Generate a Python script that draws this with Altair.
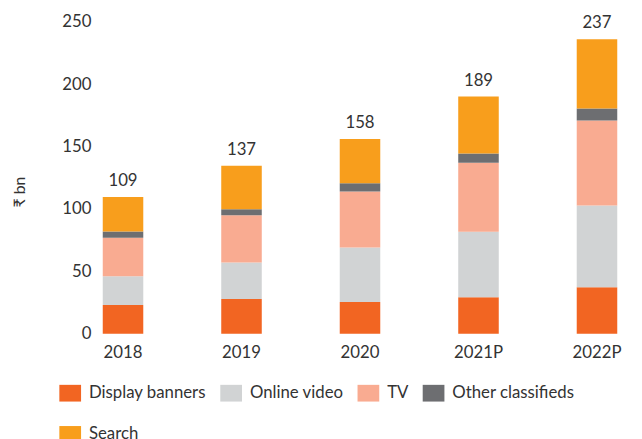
import altair as alt
import pandas as pd

years = ["2018", "2019", "2020", "2021P", "2022P"]
series = ["Display banners", "Online video", "TV", "Other classifieds", "Search"]
colors = ["#F26522", "#D1D3D4", "#F9AB91", "#6D6E71", "#F89E1C"]

display_banners = [23.0, 27.7, 25.3, 29.3, 37.2]
online_video = [23.0, 29.3, 43.8, 52.3, 65.5]
tv = [30.9, 38.0, 44.9, 55.4, 68.1]
other_classifieds = [5.0, 4.8, 6.6, 7.4, 9.7]
search = [27.7, 34.8, 35.4, 45.7, 55.4]
totals = [109, 137, 158, 189, 237]

y_ticks = [0, 50, 100, 150, 200, 250]

values = [display_banners, online_video, tv, other_classifieds, search]
rows = []
for si, s in enumerate(series):
    for yi, yr in enumerate(years):
        rows.append({"year": yr, "series": s, "value": values[si][yi], "ord": si})
df = pd.DataFrame(rows)

tops = df.groupby("year", sort=False)["value"].sum().reindex(years).tolist()
df_tot = pd.DataFrame({"year": years, "top": tops, "label": [str(t) for t in totals]})

FONT = "Lato"
TXT = "#333333"

x_enc = alt.X(
    "year:N",
    sort=years,
    scale=alt.Scale(paddingInner=0.658, paddingOuter=0.033),
    axis=alt.Axis(title=None, labelAngle=0, ticks=False, domain=False,
                  labelPadding=11, labelFontSize=17, labelFont=FONT, labelColor=TXT),
)

bars = alt.Chart(df).mark_bar(strokeWidth=0).encode(
    x=x_enc,
    y=alt.Y(
        "value:Q",
        stack="zero",
        scale=alt.Scale(domain=[0, 250], nice=False),
        axis=alt.Axis(values=y_ticks, title="₹ bn", grid=False, ticks=False, domain=False,
                      labelPadding=8, labelFontSize=17, labelFont=FONT, labelColor=TXT,
                      titleFontSize=16, titleFont=FONT, titleColor=TXT, titleFontWeight="normal",
                      titleAngle=-90, titleX=-80, titleY=172, titleAlign="center",
                      titleBaseline="middle"),
    ),
    color=alt.Color(
        "series:N",
        scale=alt.Scale(domain=series, range=colors),
        legend=alt.Legend(
            title=None, orient="none", legendX=-40, legendY=365,
            direction="horizontal", columns=4,
            symbolType="M-1,-0.77H1V0.77H-1Z", symbolSize=484, symbolStrokeWidth=0,
            labelFontSize=17, labelFont=FONT, labelColor=TXT, labelOffset=8,
            columnPadding=14, rowPadding=22, padding=0,
        ),
    ),
    order=alt.Order("ord:Q", sort="ascending"),
)

labels = alt.Chart(df_tot).mark_text(
    baseline="alphabetic", dy=-11, fontSize=17, font=FONT, color=TXT
).encode(
    x=alt.X("year:N", sort=years),
    y=alt.Y("top:Q"),
    text="label:N",
)

chart = alt.layer(bars, labels).properties(
    width=529, height=316,
    autosize=alt.AutoSizeParams(type="none"),
    padding={"left": 92, "top": 11, "right": 13, "bottom": 120},
).configure_view(stroke=None)

chart.save("out.html", embed_options={"renderer": "svg", "actions": False})
